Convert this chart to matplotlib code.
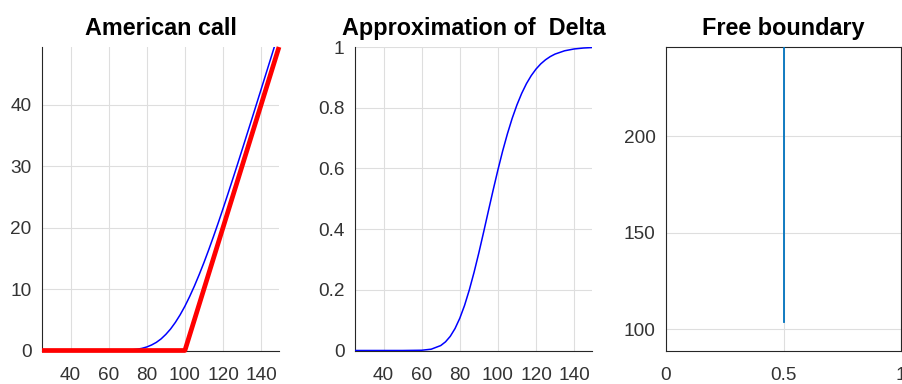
import matplotlib
matplotlib.use("Agg")
import matplotlib.pyplot as plt

plt.rcParams['font.family'] = ['Liberation Sans', 'DejaVu Sans']

# ---- data ----
S_grid = [25, 50, 60, 65, 70, 72.5, 75, 77.5, 80, 82.5, 85, 87.5, 90, 92.5, 95, 97.5,
          100, 102.5, 105, 107.5, 110, 112.5, 115, 117.5, 120, 122.5, 125, 127.5,
          130, 135, 140, 145, 150]
call_price = [0, 0, 0.002, 0.013, 0.058, 0.112, 0.203, 0.354, 0.575, 0.897, 1.319,
              1.887, 2.624, 3.505, 4.574, 5.807, 7.203, 8.785, 10.499, 12.352, 14.308,
              16.384, 18.545, 20.771, 23.069, 25.407, 27.787, 30.197, 32.640, 37.548,
              42.496, 47.469, 52.464]
delta = [0, 0, 0.0008, 0.0043, 0.0163, 0.0285, 0.0467, 0.0723, 0.1062, 0.1485, 0.1996,
         0.2578, 0.3217, 0.3897, 0.4594, 0.5283, 0.5948, 0.6573, 0.7140, 0.7649, 0.8092,
         0.8473, 0.8794, 0.9057, 0.9272, 0.9444, 0.9579, 0.9685, 0.9767, 0.9875, 0.9935,
         0.9967, 0.9984]
payoff_S = [25, 100, 149.4]
payoff_V = [0, 0, 49.4]
fb_t = [0.5, 0.5]
fb_S = [103.9, 250]

titles = ["American call", "Approximation of  Delta", "Free boundary"]
xticks_S = [40, 60, 80, 100, 120, 140]
yticks_call = [0, 10, 20, 30, 40]
yticks_delta = [0, 0.2, 0.4, 0.6, 0.8, 1]
yticklabels_delta = ["0", "0.2", "0.4", "0.6", "0.8", "1"]
xticks_fb = [0, 0.5, 1]
xticklabels_fb = ["0", "0.5", "1"]
yticks_fb = [100, 150, 200]

W, H = 902, 384
fig = plt.figure(figsize=(W / 100, H / 100), dpi=100)

def add(left, width):
    return fig.add_axes([left / W, 33.5 / H, width / W, 303.5 / H])

ax1 = add(42, 237)
ax2 = add(355, 237)
ax3 = add(666, 235)

spine_c = '#262626'
grid_c = '#dedede'
lab_c = '#333333'

for ax, title in zip([ax1, ax2, ax3], titles):
    ax.set_title(title, fontsize=16.8, fontweight='bold', pad=8.5, color='black')
    ax.grid(True, color=grid_c, linewidth=0.8)
    ax.set_axisbelow(True)
    ax.tick_params(length=0, labelsize=13.7, labelcolor=lab_c)
    ax.tick_params(axis='x', pad=12)
    ax.tick_params(axis='y', pad=7.5)
    for sp in ax.spines.values():
        sp.set_color(spine_c)
        sp.set_linewidth(0.8)

for ax in (ax1, ax2):
    ax.spines['top'].set_visible(False)
    ax.spines['right'].set_visible(False)
    ax.set_xlim(25, 149.4)
    ax.set_xticks(xticks_S)

# Panel 1
ax1.plot(S_grid, call_price, color='#0000ff', linewidth=1.1, zorder=3)
ax1.plot(payoff_S, payoff_V, color='#ff0000', linewidth=3.4, zorder=4, clip_on=False,
         solid_capstyle='butt')
ax1.set_ylim(0, 49.4)
ax1.set_yticks(yticks_call)

# Panel 2
ax2.plot(S_grid, delta, color='#0000ff', linewidth=1.1, zorder=3)
ax2.set_ylim(0, 1)
ax2.set_yticks(yticks_delta)
ax2.set_yticklabels(yticklabels_delta)

# Panel 3
ax3.plot(fb_t, fb_S, color='#0072BD', linewidth=1.3, zorder=3)
ax3.set_xlim(0, 1)
ax3.set_ylim(88.9, 246.4)
ax3.set_xticks(xticks_fb)
ax3.set_xticklabels(xticklabels_fb)
ax3.set_yticks(yticks_fb)

fig.savefig("out.png", dpi=100)
